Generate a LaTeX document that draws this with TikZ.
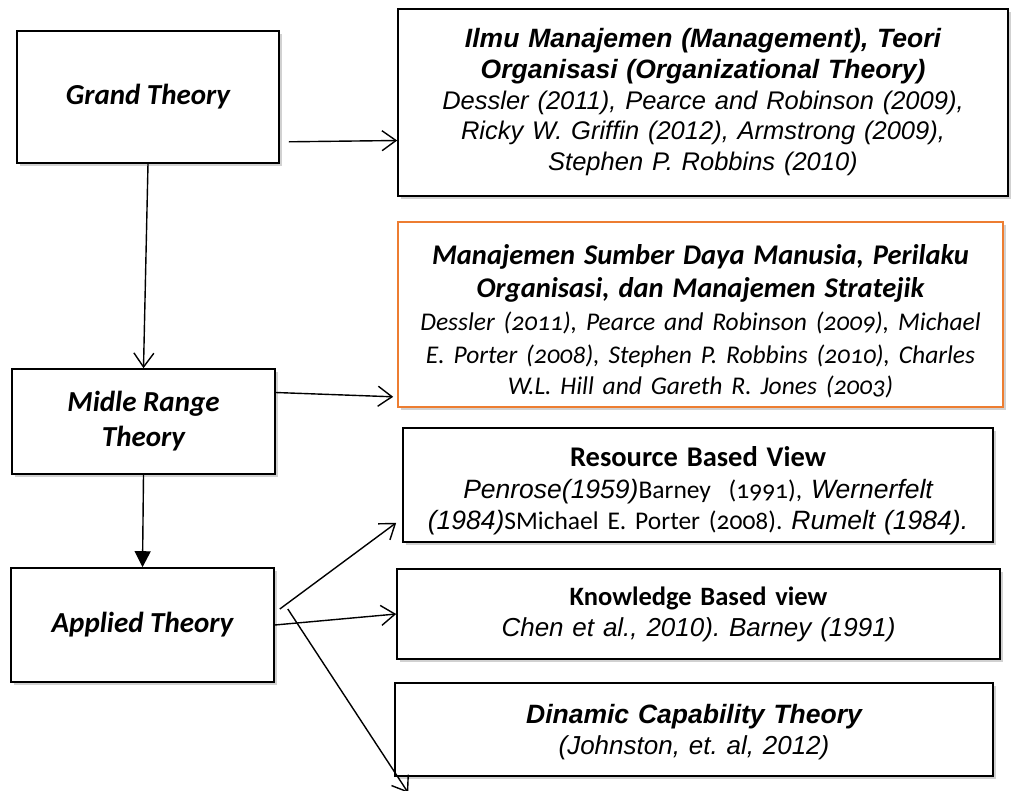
\documentclass[tikz,border=0pt]{standalone}
\usepackage{fontspec}
\setmainfont{Carlito}[Numbers=OldStyle]
\newfontfamily\arialf{Liberation Sans}
\usetikzlibrary{arrows.meta, positioning, shadows}
\frenchspacing

\definecolor{boxorange}{RGB}{237,125,49}

\begin{document}
\begin{tikzpicture}[x=1pt, y=-1pt,
    >={Straight Barb[length=14pt, width=20pt]},
    every box/.style={draw, line width=1.6pt, fill=white, inner sep=0pt,
        drop shadow={shadow xshift=3pt, shadow yshift=-3pt, fill=black!18, opacity=1}},
    level/.style={every box, align=center, node font=\fontsize{29}{35}\selectfont\bfseries\itshape},
    theory/.style={every box, align=center, text width=586pt, node font=\fontsize{26.5}{31}\selectfont}]
  \useasboundingbox (0,0) rectangle (1011,790);

  % left column
  \node[level, minimum width=262pt, minimum height=132pt] (grand)   at (148,97)      {Grand Theory};
  \node[level, minimum width=263pt, minimum height=105pt] (midle)   at (143.5,421.5) {Midle Range\\Theory};
  \node[level, minimum width=263pt, minimum height=114pt] (applied) at (142.5,625)   {Applied Theory};

  % right column
  \node[theory, minimum width=610pt, minimum height=187pt] (ilmu) at (703,102.5)
    {\arialf\bfseries\itshape Ilmu Manajemen (Management), Teori\\
     Organisasi (Organizational Theory)\\
     \fontsize{25.5}{30.5}\selectfont\mdseries Dessler (2011), Pearce and Robinson (2009),\\
     Ricky W. Griffin (2012), Armstrong (2009),\\
     Stephen P. Robbins (2010)};
  \node[theory, draw=boxorange, minimum width=605pt, minimum height=185pt] (msdm) at (700.5,314.5)
    {\fontsize{28.5}{33}\selectfont\bfseries\itshape\rule{0pt}{33pt}Manajemen Sumber Daya Manusia, Perilaku\\
     Organisasi, dan Manajemen Stratejik\\
     \fontsize{25.5}{33}\selectfont\mdseries Dessler (2011), Pearce and Robinson (2009), Michael\\
     E. Porter (2008), Stephen P. Robbins (2010), Charles\\
     W.L. Hill and Gareth R. Jones (2003)};
  \node[theory, minimum width=590pt, minimum height=114pt] (rbv) at (698,485)
    {\fontsize{28.5}{32}\selectfont\bfseries\rule{0pt}{32pt}Resource Based View\\
     \fontsize{25.5}{32}\selectfont\mdseries{\arialf\itshape\fontsize{26.5}{32}\selectfont Penrose(1959)}Barney\ \ (1991), {\arialf\itshape\fontsize{26.5}{32}\selectfont Wernerfelt}\\
     {\arialf\itshape\fontsize{26.5}{32}\selectfont (1984)}SMichael E. Porter (2008). {\arialf\itshape\fontsize{26.5}{32}\selectfont Rumelt (1984).}};
  \node[theory, minimum width=603pt, minimum height=90pt] (kbv) at (698.5,614)
    {\fontsize{26.5}{31}\selectfont\bfseries Knowledge Based view\\
     \fontsize{26}{31}\selectfont\mdseries\arialf\itshape Chen et al., 2010). Barney (1991)};
  \node[theory, minimum width=598pt, minimum height=93pt] (dct) at (694,729.5)
    {\arialf\bfseries\itshape\rule{0pt}{25pt}Dinamic Capability Theory\\
     \fontsize{26}{31}\selectfont\mdseries (Johnston, et. al, 2012)};

  \path[->, line width=1.4pt]
    ([xshift=9pt, yshift=22pt]grand.south east) edge ([yshift=-38pt]ilmu.west)
    (grand.south) edge (midle.north)
    ([yshift=29pt]midle.east) edge ([xshift=-4pt, yshift=11pt]msdm.south west)
    (midle.south) edge[-{Triangle[length=16pt, width=16pt]}] (applied.north)
    ([xshift=5pt, yshift=16pt]applied.east) edge ([xshift=-6pt, yshift=20pt]rbv.south west)
    (applied.east) edge (kbv.west)
    ([xshift=13pt, yshift=16pt]applied.east) edge ([xshift=14pt, yshift=-16pt]dct.south west);
\end{tikzpicture}
\end{document}
